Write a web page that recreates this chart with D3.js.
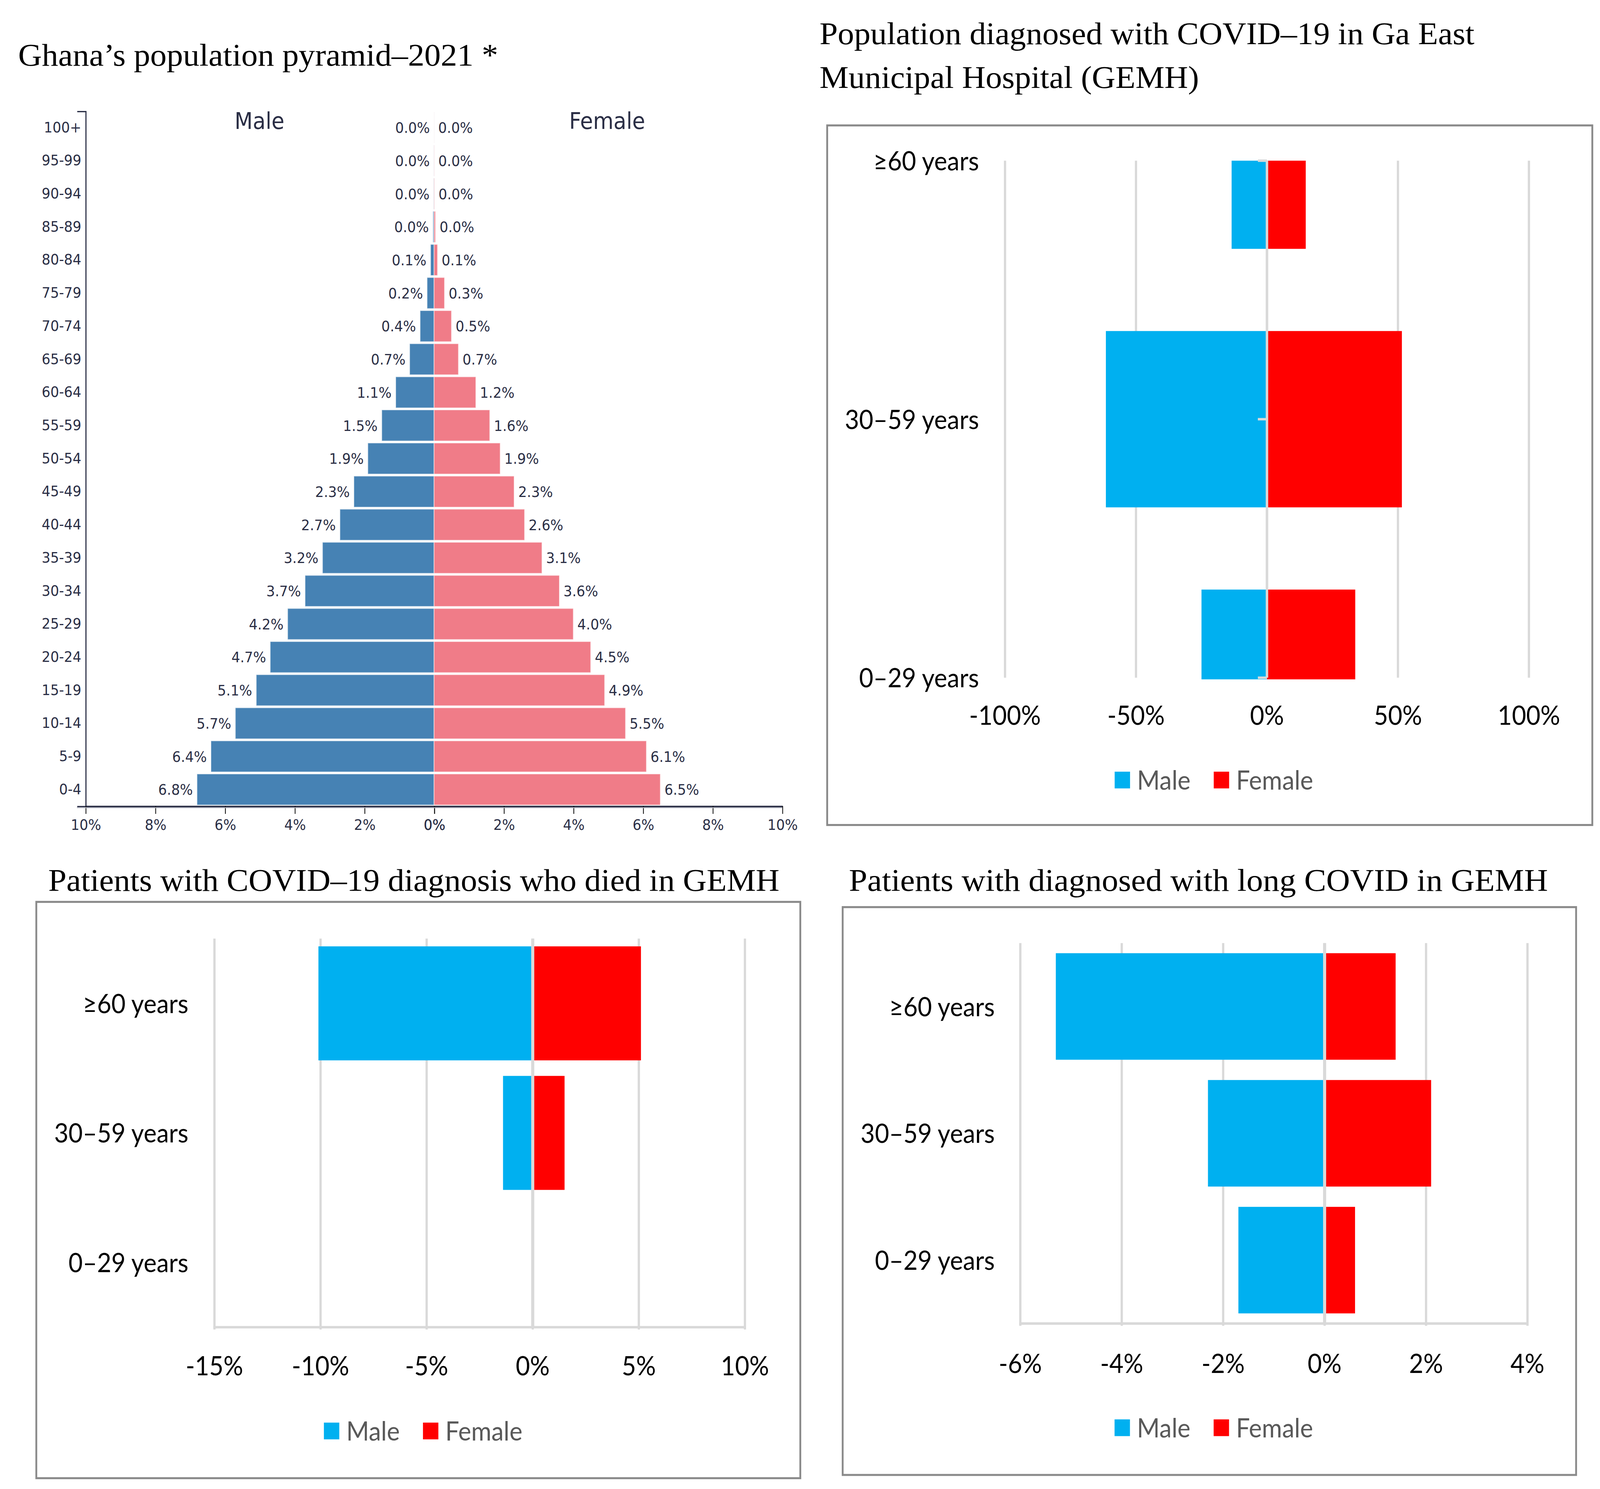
<!DOCTYPE html>
<html lang="en">
<head>
  <meta charset="UTF-8">
  <title>Ghana population pyramid and COVID-19 in GEMH</title>
  <script src="https://d3js.org/d3.v7.min.js"></script>
  <style>
    html, body { margin: 0; padding: 0; background: #fff; overflow: hidden; }
    #chart { display: block; width: 100vw; height: 100vh; }
  </style>
</head>
<body>
  <svg id="chart"></svg>

  <script>
    // ---- data ----
    // Ghana population pyramid 2021, % of total population (top row first)
    const ageGroups = ["100+", "95-99", "90-94", "85-89", "80-84", "75-79", "70-74", "65-69",
      "60-64", "55-59", "50-54", "45-49", "40-44", "35-39", "30-34", "25-29", "20-24",
      "15-19", "10-14", "5-9", "0-4"];
    const maleShare = [0.002, 0.005, 0.01, 0.03, 0.1, 0.2, 0.4, 0.7, 1.1, 1.5, 1.9, 2.3,
      2.7, 3.2, 3.7, 4.2, 4.7, 5.1, 5.7, 6.4, 6.8];
    const femaleShare = [0.002, 0.005, 0.01, 0.04, 0.1, 0.3, 0.5, 0.7, 1.2, 1.6, 1.9, 2.3,
      2.6, 3.1, 3.6, 4.0, 4.5, 4.9, 5.5, 6.1, 6.5];
    const pyramidTicks = [0, 2, 4, 6, 8, 10];

    // GEMH charts (males drawn to the left)
    const covidAgeGroups = ["≥60 years", "30–59 years", "0–29 years"];
    const diagnosedMale = [13.5, 61.5, 25.0];
    const diagnosedFemale = [14.8, 51.5, 33.7];
    const diagnosedTicks = [-100, -50, 0, 50, 100];
    const diedMale = [10.1, 1.4, 0];
    const diedFemale = [5.1, 1.5, 0];
    const diedTicks = [-15, -10, -5, 0, 5, 10];
    const longMale = [5.3, 2.3, 1.7];
    const longFemale = [1.4, 2.1, 0.6];
    const longTicks = [-6, -4, -2, 0, 2, 4];

    // ---- setup ----
    // drawn in a 1560-wide frame, stretched to whatever window we get
    const W = 1560, H = 1334.5;
    const svg = d3.select("#chart")
      .attr("viewBox", `0 0 ${W} ${H}`)
      .attr("preserveAspectRatio", "none");

    const ink = "#2a2e45";
    const serif = "'Liberation Serif', 'Times New Roman', serif";
    const sans = "'DejaVu Sans', sans-serif";
    const office = "Lato, 'Noto Sans', sans-serif";

    function title(x, y, len, txt) {
      svg.append("text")
        .attr("x", x).attr("y", y)
        .attr("font-family", serif)
        .attr("font-size", 28.5)
        .attr("textLength", len)
        .attr("lengthAdjust", "spacingAndGlyphs")
        .attr("fill", "#000")
        .text(txt);
    }

    // ---- population pyramid ----
    function drawPyramid() {
      const g = svg.append("g");
      const y = d3.scaleBand().domain(ageGroups).range([99.5, 722.4])
        .paddingInner(0.06).paddingOuter(0.03);
      const xm = d3.scaleLinear().domain([0, 10]).range([423.2, 83.3]);
      const xf = d3.scaleLinear().domain([0, 10]).range([423.2, 762.6]);

      const rows = ageGroups.map((a, i) => ({ age: a, m: maleShare[i], f: femaleShare[i] }));

      g.selectAll("rect.male").data(rows).join("rect")
        .attr("class", "male")
        .attr("x", d => xm(d.m))
        .attr("y", d => y(d.age))
        .attr("width", d => xm(0) - xm(d.m))
        .attr("height", y.bandwidth())
        .attr("fill", "#4682b4")
        .attr("stroke", "rgba(255,255,255,0.5)")
        .attr("stroke-width", 0.8);

      g.selectAll("rect.female").data(rows).join("rect")
        .attr("class", "female")
        .attr("x", xf(0))
        .attr("y", d => y(d.age))
        .attr("width", d => xf(d.f) - xf(0))
        .attr("height", y.bandwidth())
        .attr("fill", "#f07c88")
        .attr("stroke", "rgba(255,255,255,0.5)")
        .attr("stroke-width", 0.8);

      const lab = g.append("g")
        .attr("font-family", sans)
        .attr("font-size", 13.3)
        .attr("fill", ink);

      lab.selectAll("text.m").data(rows).join("text")
        .attr("class", "m")
        .attr("x", d => xm(d.m) - 4)
        .attr("y", d => y(d.age) + y.bandwidth() / 2)
        .attr("dy", "0.36em")
        .attr("text-anchor", "end")
        .text(d => d.m.toFixed(1) + "%");

      lab.selectAll("text.f").data(rows).join("text")
        .attr("class", "f")
        .attr("x", d => xf(d.f) + 4)
        .attr("y", d => y(d.age) + y.bandwidth() / 2)
        .attr("dy", "0.36em")
        .attr("text-anchor", "start")
        .text(d => d.f.toFixed(1) + "%");

      // side headers
      g.append("text").attr("x", 253).attr("y", 115.5)
        .attr("text-anchor", "middle").attr("font-family", sans)
        .attr("font-size", 20.5).attr("fill", ink).text("Male");
      g.append("text").attr("x", 592).attr("y", 115.5)
        .attr("text-anchor", "middle").attr("font-family", sans)
        .attr("font-size", 20.5).attr("fill", ink).text("Female");

      // axes
      const yAxis = g.append("g")
        .attr("transform", "translate(83.3,0)")
        .call(d3.axisLeft(y).tickSize(0).tickSizeOuter(8).tickPadding(4));
      yAxis.select(".domain").attr("stroke", ink).attr("stroke-width", 1.1);

      const fmt = d => d + "%";
      [xm, xf].forEach(sc => {
        const ax = g.append("g")
          .attr("transform", "translate(0,722.4)")
          .call(d3.axisBottom(sc).tickValues(pyramidTicks).tickFormat(fmt)
            .tickSize(7).tickSizeOuter(0).tickPadding(5));
        ax.select(".domain").attr("stroke", ink).attr("stroke-width", 1.6);
        ax.selectAll(".tick line").attr("stroke", "#111").attr("stroke-width", 0.8);
      });
      // soft shadow under the baseline
      g.append("line").attr("x1", 75).attr("x2", 762.6)
        .attr("y1", 723.9).attr("y2", 723.9)
        .attr("stroke", "#b9bcc6").attr("stroke-width", 0.8);

      g.selectAll(".tick text")
        .attr("font-family", sans).attr("font-size", 13.3).attr("fill", ink);
    }

    // ---- Excel style butterfly charts ----
    function drawButterfly(o) {
      const g = svg.append("g");
      const grid = "#d9d9d9";

      g.append("rect")
        .attr("x", o.box[0]).attr("y", o.box[1])
        .attr("width", o.box[2] - o.box[0]).attr("height", o.box[3] - o.box[1])
        .attr("fill", "none").attr("stroke", "#8a8a8a").attr("stroke-width", 1.8);

      const x = d3.scaleLinear().domain(d3.extent(o.ticks)).range([o.left, o.right]);

      let yPos, barH;
      if (o.onTicks) {
        // Excel "on tick marks": first and last bars are cut in half by the plot area
        const y = d3.scalePoint().domain(o.cats).range([o.top, o.bottom]);
        barH = y.step() * o.barRatio;
        yPos = c => y(c);
      } else {
        const y = d3.scaleBand().domain(o.cats).range([o.top, o.bottom])
          .paddingInner(o.pad).paddingOuter(o.pad / 2);
        barH = y.bandwidth();
        yPos = c => y(c) + y.bandwidth() / 2;
      }

      // vertical gridlines
      g.selectAll("line.grid").data(o.ticks).join("line")
        .attr("class", "grid")
        .attr("x1", d => x(d)).attr("x2", d => x(d))
        .attr("y1", o.top).attr("y2", o.bottom + (o.baseLine ? 2 : 0))
        .attr("stroke", grid).attr("stroke-width", 2.2);

      if (o.baseLine) {
        g.append("line").attr("x1", o.left - 1).attr("x2", o.right + 1)
          .attr("y1", o.bottom).attr("y2", o.bottom)
          .attr("stroke", grid).attr("stroke-width", 2.2);
      }

      const rows = o.cats.map((c, i) => ({ cat: c, m: o.male[i], f: o.female[i] }));

      const clipId = "clip" + o.id;
      g.append("clipPath").attr("id", clipId).append("rect")
        .attr("x", o.left - 5).attr("y", o.top)
        .attr("width", o.right - o.left + 10).attr("height", o.bottom - o.top + 1.5);

      const bars = g.append("g").attr("clip-path", `url(#${clipId})`);
      bars.selectAll("rect.m").data(rows).join("rect")
        .attr("class", "m")
        .attr("x", d => x(-d.m)).attr("width", d => x(0) - x(-d.m))
        .attr("y", d => yPos(d.cat) - barH / 2).attr("height", barH)
        .attr("fill", "#00b0f0");
      bars.selectAll("rect.f").data(rows).join("rect")
        .attr("class", "f")
        .attr("x", x(0)).attr("width", d => x(d.f) - x(0))
        .attr("y", d => yPos(d.cat) - barH / 2).attr("height", barH)
        .attr("fill", "#ff0000");

      // category axis at zero, drawn over the bars
      g.append("line").attr("x1", x(0)).attr("x2", x(0))
        .attr("y1", o.top).attr("y2", o.bottom)
        .attr("stroke", grid).attr("stroke-width", o.zeroWidth);
      if (o.onTicks) {
        g.selectAll("line.ctick").data(o.cats).join("line")
          .attr("class", "ctick")
          .attr("x1", x(0) - 8.9).attr("x2", x(0))
          .attr("y1", d => yPos(d)).attr("y2", d => yPos(d))
          .attr("stroke", grid).attr("stroke-width", 2.2);
      }

      // category labels
      g.selectAll("text.cat").data(o.cats).join("text")
        .attr("class", "cat")
        .attr("x", o.labelX).attr("y", d => yPos(d)).attr("dy", "0.36em")
        .attr("text-anchor", "end")
        .attr("font-family", office).attr("font-size", 24).attr("fill", "#000")
        .text(d => d);

      // value ticks
      g.selectAll("text.tick").data(o.ticks).join("text")
        .attr("class", "tick")
        .attr("x", d => x(d)).attr("y", o.tickY).attr("dy", "0.36em")
        .attr("text-anchor", "middle")
        .attr("font-family", office).attr("font-size", 24).attr("fill", "#000")
        .text(d => String(d) + "%");

      // legend
      const lg = g.append("g").attr("transform", `translate(${o.legend[0]},${o.legend[1]})`);
      const items = [{ t: "Male", c: "#00b0f0", dx: 0 }, { t: "Female", c: "#ff0000", dx: 96.6 }];
      items.forEach(it => {
        lg.append("rect").attr("x", it.dx).attr("y", -7.5)
          .attr("width", 15).attr("height", 15).attr("fill", it.c);
        lg.append("text").attr("x", it.dx + 21.8).attr("y", 0).attr("dy", "0.36em")
          .attr("font-family", office).attr("font-size", 24).attr("fill", "#595959")
          .text(it.t);
      });
    }

    // ---- titles ----
    title(17.7, 58.7, 468, "Ghana’s population pyramid–2021 *");
    title(799, 39.5, 638.6, "Population diagnosed with COVID–19 in Ga East");
    title(799, 78.8, 370, "Municipal Hospital (GEMH)");
    title(47, 798.5, 713, "Patients with COVID–19 diagnosis who died in GEMH");
    title(827.7, 798.5, 681.5, "Patients with diagnosed with long COVID in GEMH");

    drawPyramid();

    drawButterfly({
      id: "diag", box: [806.5, 112.4, 1552.5, 739.4],
      left: 979.9, right: 1490.7, top: 144, bottom: 607.4,
      onTicks: true, barRatio: 0.682, baseLine: false, zeroWidth: 2.4,
      cats: covidAgeGroups, male: diagnosedMale, female: diagnosedFemale,
      ticks: diagnosedTicks, labelX: 954.5, tickY: 641, legend: [1086.8, 699.1]
    });

    drawButterfly({
      id: "died", box: [35.4, 808.3, 780.3, 1324.8],
      left: 209.1, right: 726.3, top: 841.2, bottom: 1189.5,
      onTicks: false, pad: 0.12, baseLine: true, zeroWidth: 3,
      cats: covidAgeGroups, male: diedMale, female: diedFemale,
      ticks: diedTicks, labelX: 183.7, tickY: 1224, legend: [315.8, 1282.5]
    });

    drawButterfly({
      id: "long", box: [821.6, 813, 1536.7, 1321.9],
      left: 994.8, right: 1489.3, top: 845.2, bottom: 1186.2,
      onTicks: false, pad: 0.16, baseLine: true, zeroWidth: 3,
      cats: covidAgeGroups, male: longMale, female: longFemale,
      ticks: longTicks, labelX: 969.9, tickY: 1222, legend: [1086.7, 1279.6]
    });
  </script>
</body>
</html>
